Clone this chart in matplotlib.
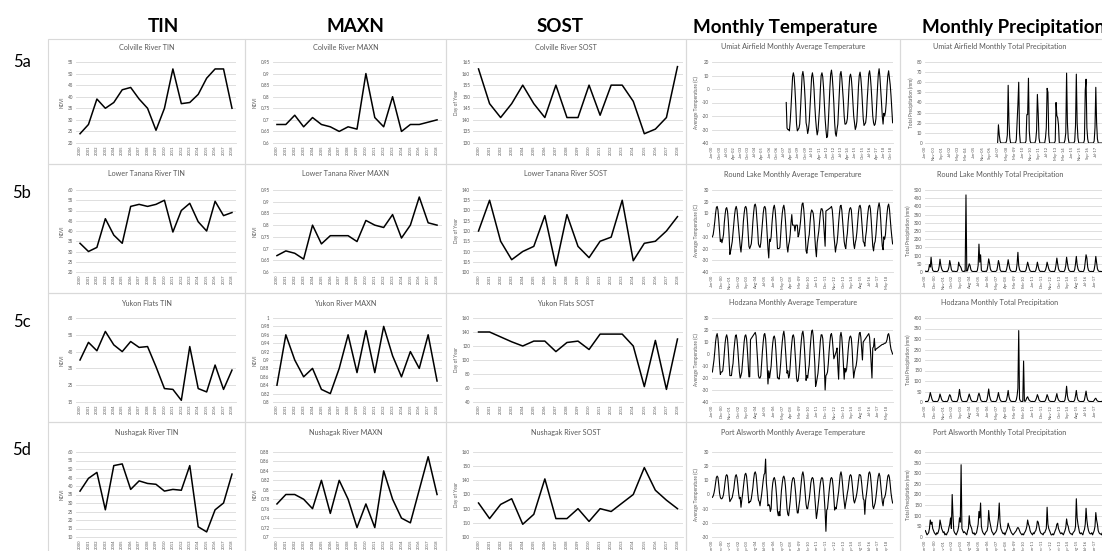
import numpy as np
import matplotlib
matplotlib.use('Agg')
import matplotlib.pyplot as plt
import matplotlib.patches as patches

plt.rcParams['font.family'] = ['Lato', 'DejaVu Sans']

nan = np.nan
W, H = 1102, 551

# ---------------- annual data (2000-2018) ----------------
years = [str(y) for y in range(2000, 2019)]

colville_tin = [24, 28, 39, 35, 37.5, 43, 44, 39, 35, 25.5, 35, 52, 37, 37.5, 41, 48, 52, 52, 35]
colville_maxn = [0.68, 0.68, 0.72, 0.67, 0.71, 0.68, 0.67, 0.65, 0.67, 0.66, 0.90, 0.71, 0.67, 0.80, 0.65, 0.68, 0.68, 0.69, 0.70]
colville_sost = [162, 147, 141, 147, 155, 147, 141, 155, 141, 141, 155, 142, 155, 155, 148, 134, 136, 141, 163]

tanana_tin = [34, 30, 32, 46, 38, 34, 52, 53, 52, 53, 55, 39.5, 50, 53.5, 44.5, 40, 54.5, 47.5, 49]
tanana_maxn = [0.67, 0.69, 0.68, 0.655, 0.80, 0.72, 0.755, 0.755, 0.755, 0.73, 0.82, 0.80, 0.79, 0.845, 0.745, 0.80, 0.92, 0.81, 0.80]
tanana_sost = [120, 135, 115, 106, 110, 112.5, 127.5, 103, 128, 112.5, 107, 115, 117, 135, 105.5, 114, 115, 120, 127]

yukon_tin = [40, 50.5, 45.5, 57, 49, 45, 51, 47.5, 48, 36, 23, 22.5, 16, 48, 23, 21, 37, 22.5, 34]
yukon_maxn = [0.84, 0.96, 0.90, 0.86, 0.88, 0.83, 0.82, 0.88, 0.96, 0.87, 0.97, 0.87, 0.98, 0.91, 0.86, 0.92, 0.88, 0.96, 0.85]
yukon_sost = [140, 140, 133, 126, 120, 127, 127, 112, 125, 127, 115, 137, 137, 137, 120, 62, 128, 58, 130]

nushagak_tin = [37, 44.5, 48, 26, 52, 53, 38, 43, 41.5, 41, 37, 38, 37.5, 52, 16, 13, 26, 30, 47]
nushagak_maxn = [0.77, 0.79, 0.79, 0.78, 0.76, 0.82, 0.75, 0.82, 0.78, 0.72, 0.77, 0.72, 0.84, 0.78, 0.74, 0.73, 0.80, 0.87, 0.79]
nushagak_sost = [124, 113, 123, 127, 109, 116, 141, 113, 113, 120, 111, 120, 118, 124, 130, 149, 133, 126, 120]

# ---------------- monthly data (Jan 2000 - Dec 2018), one row per year ----------------
umiat_temp = [
    [nan] * 12, [nan] * 12, [nan] * 12, [nan] * 12, [nan] * 12, [nan] * 12, [nan] * 12,
    [nan, nan, nan, nan, nan, nan, nan, nan, nan, -10, -29, -30],
    [-30, -31, -24, -14, -2, 9, 12, 9, 0, -12, -26, -31],
    [-30, -29, -26, -15, -2, 10, 13, 9, 1, -10, -25, -28],
    [-33, -30, -24, -13, -1, 9, 12, 8, 0, -12, -22, -29],
    [-34, -31, -22, -14, 0, 10, 12, 9, 1, -10, -22, -30],
    [-36, -35, -25, -12, 1, 11, 14, 9, 0, -11, -25, -33],
    [-35, -30, -26, -14, -2, 11, 13, 8, 0, -9, -20, -26],
    [-26, -25, -22, -12, 0, 9, 11, 8, 0, -10, -20, -25],
    [-30, -28, -24, -12, 2, 10, 12.5, 8, 0, -11, -22, -27],
    [-26, -25, -20, -8, 2, 11, 13.5, 9, 1, -9, -20, -25],
    [-27, -26, -22, -10, 1, 11, 15, 9, 0, -10, -20, -26],
    [-18, -20, -17, -10, 2, 10, 13.5, 8, 3, -5, -15, -25],
]
umiat_prcp = [
    [nan] * 12, [nan] * 12, [nan] * 12, [nan] * 12, [nan] * 12, [nan] * 12, [nan] * 12,
    [nan, nan, nan, nan, nan, 0, 18, 8, 2, 0, 0, 0],
    [0, 0, 0, 0, 2, 8, 57, 20, 5, 0, 0, 0],
    [0, 0, 0, 0, 3, 20, 38, 60, 10, 0, 0, 0],
    [0, 0, 0, 0, 2, 28, 28, 64, 12, 2, 0, 0],
    [0, 0, 0, 0, 3, 12, 48, 30, 5, 0, 0, 0],
    [0, 0, 0, 0, 5, 15, 54, 50, 8, 0, 0, 0],
    [0, 0, 0, 0, 2, 40, 27, 25, 18, 0, 0, 0],
    [0, 0, 0, 0, 3, 10, 69, 20, 5, 0, 0, 0],
    [0, 0, 0, 0, 2, 17, 68, 20, 5, 0, 0, 0],
    [0, 0, 0, 0, 3, 52, 63, 15, 4, 0, 0, 0],
    [0, 0, 0, 0, 2, 15, 55, 20, 4, 0, 0, 0],
    [0, 0, 0, 0, 3, 20, 50, 25, 6, 0, 0, 0],
]
roundlake_temp = [
    [-10, -8, -3, 3, 10, 15, 16, 13, 5, -5, -14, -12],
    [-15, -12, -8, 2, 9, 14, 15, 12, 4, -8, -25, -22],
    [-18, -14, -6, 1, 9, 14, 16, 13, 5, -3, -12, -18],
    [-23, -15, -8, 3, 10, 15, 16, 14, 5, -6, -18, -20],
    [-18, -16, -8, 3, 11, 17, 18, 15, 6, -4, -16, -18],
    [-19, -15, -7, 2, 10, 15, 16, 14, 4, -8, -20, -28],
    [-12, -14, -10, 1, 9, 15, 17, 13, 4, -8, -20, -20],
    [-20, -19, -8, 2, 10, 15, 17, 13, 4, -7, -18, -23],
    [-17, -14, -8, 2, 9, 0, 0, 0, -5, 0, 0, 0],
    [-10, -8, -3, 3, 12, 18, 19, 14, 5, -8, -22, -24],
    [-18, -12, -8, 2, 10, 13, 12, 10, 3, -10, -20, -27],
    [-15, -10, -5, 3, 10, 14, 14, 12, 3, -8, -18, 12],
    [12.5, 13, 13.5, 14, 14.5, 15, 16, 13, 4, -8, -16, -23],
    [-18, -15, -8, 2, 10, 16, 17, 13, 4, -6, -14, -18],
    [-20, -12, -7, 3, 10, 14, 15, 13, 4, -6, -16, -20],
    [-15, -12, -6, 3, 11, 16, 17, 14, 5, -5, -14, -15],
    [-18, -10, -5, 4, 11, 16, 17, 14, 5, -6, -18, -22],
    [-16, -14, -8, 2, 11, 16, 19, 15, 5, -8, -18, -21],
    [-10, -12, -8, 2, 10, 16, 18, 14, 5, -3, -10, -16],
]
roundlake_prcp = [
    [5, 3, 4, 2, 15, 45, 30, 90, 35, 10, 5, 3],
    [4, 3, 2, 5, 10, 35, 78, 40, 20, 8, 4, 3],
    [3, 2, 4, 3, 12, 30, 70, 45, 15, 6, 3, 5],
    [4, 3, 2, 4, 15, 60, 40, 35, 25, 8, 4, 3],
    [5, 4, 470, 5, 10, 30, 50, 40, 15, 6, 4, 3],
    [3, 4, 3, 2, 10, 40, 170, 60, 105, 10, 5, 3],
    [4, 3, 5, 3, 12, 40, 80, 55, 20, 8, 4, 3],
    [3, 4, 2, 5, 10, 35, 70, 50, 15, 6, 3, 4],
    [4, 3, 3, 2, 15, 40, 75, 45, 20, 8, 5, 3],
    [3, 4, 2, 3, 10, 50, 120, 40, 15, 6, 4, 3],
    [4, 3, 3, 4, 12, 35, 60, 40, 20, 8, 4, 3],
    [3, 4, 3, 2, 10, 30, 60, 35, 15, 6, 3, 4],
    [4, 3, 2, 4, 12, 30, 60, 40, 20, 8, 5, 3],
    [3, 4, 3, 2, 15, 45, 85, 50, 20, 8, 4, 3],
    [4, 3, 2, 4, 15, 40, 90, 55, 25, 10, 5, 3],
    [3, 4, 3, 3, 15, 50, 95, 45, 20, 8, 4, 3],
    [4, 3, 2, 5, 20, 60, 105, 85, 30, 10, 5, 3],
    [3, 4, 3, 2, 15, 45, 95, 55, 20, 8, 4, 3],
    [4, 3, 2, 4, 15, 50, 100, 60, 20, 8, 4, 3],
]
hodzana_temp = [
    [-15, -10, -5, 2, 10, 15, 17, 13, 4, -8, -17, -15],
    [-15, -14, -8, 1, 9, 14, 16, 13, 4, -8, -18, -18],
    [-18, -12, -8, 2, 9, 15, 16, 12, 4, -6, -15, -20],
    [-18, -15, -7, 2, 10, 15, 16, 13, 4, -8, -19, -19],
    [12, 13, 14, 15, 16, 17, 18, 15, 5, -6, -18, -20],
    [-20, -18, -8, 2, 10, 16, 17, 13, 3, -10, -25, -14],
    [-20, -15, -10, 1, 9, 14, 15, 12, 3, -8, -20, -20],
    [-21, -16, -8, 2, 10, 16, 19, 14, 4, -6, -16, -14],
    [-20, -18, -10, 1, 9, 15, 16, 13, 3, -8, -20, -23],
    [-22, -16, -8, 3, 11, 17, 19, 14, 4, -8, -22, -18],
    [-20, -14, -9, 3, 12, 19, 20, 15, 4, -8, -27, -24],
    [-20, -16, -8, 2, 11, 16, 16, 13, 3, -10, -30, -18],
    [-17, -15, -8, 2, 10, 16, 17, 13, 4, -4, -2, 0],
    [2, 5, -10, -21, 0, 15, 18, 14, 4, -8, -21, -12],
    [-15, -13, -6, 3, 10, 14, 15, 13, 4, -10, -20, -15],
    [-12, -10, -5, 4, 11, 17, 18, 14, 4, -5, 10, 11],
    [12, 13, 14, 15, 16, 17, 14, 4, -8, -20, 5, 6],
    [13, 3, 4, 4.5, 5, 5.5, 6, 6.5, 7, 7.5, 8, 8],
    [8.5, 9, 9, 10, 12, 16, 17, 14, 8, 4, 2, 0],
]
hodzana_prcp = [
    [2, 3, 2, 3, 10, 25, 45, 30, 15, 5, 3, 2],
    [3, 2, 2, 3, 8, 20, 38, 25, 12, 5, 3, 2],
    [2, 3, 2, 3, 10, 25, 35, 28, 12, 5, 3, 2],
    [3, 2, 2, 3, 12, 30, 60, 30, 15, 5, 3, 2],
    [2, 3, 2, 3, 10, 25, 38, 25, 12, 5, 3, 2],
    [3, 2, 2, 3, 10, 30, 42, 30, 12, 5, 3, 2],
    [2, 3, 2, 3, 12, 35, 62, 30, 15, 5, 3, 2],
    [3, 2, 2, 3, 10, 25, 45, 25, 12, 5, 3, 2],
    [2, 3, 2, 3, 10, 30, 55, 25, 12, 5, 3, 2],
    [3, 2, 2, 3, 10, 30, 65, 340, 15, 5, 3, 2],
    [2, 195, 5, 3, 10, 20, 25, 15, 8, 5, 3, 2],
    [3, 2, 2, 3, 10, 20, 35, 25, 10, 5, 3, 2],
    [2, 3, 2, 3, 8, 20, 35, 25, 10, 5, 3, 2],
    [3, 2, 2, 3, 8, 25, 40, 20, 10, 5, 3, 2],
    [2, 3, 2, 3, 10, 35, 75, 30, 12, 5, 3, 2],
    [3, 2, 2, 3, 10, 30, 55, 25, 10, 5, 3, 2],
    [2, 3, 2, 3, 10, 30, 52, 25, 10, 5, 3, 2],
    [3, 2, 2, 3, 8, 15, 18, 10, 5, 3, 2, 2],
    [2, 3, 2, 3, 8, 15, 20, 12, 6, 3, 2, 2],
]
alsworth_temp = [
    [-2, -1, 1, 4, 8, 12, 13, 12, 7, 1, -2, -3],
    [-3, -2, 0, 4, 9, 13, 14, 13, 7, 0, -5, -4],
    [-3, -2, 1, 4, 9, 13, 14, 12, 7, 1, -3, -2],
    [-9, -4, 0, 5, 10, 14, 15, 13, 7, 0, -6, -5],
    [-5, -3, 1, 5, 11, 15, 16, 14, 8, 1, -4, -5],
    [-8, -4, 0, 5, 10, 14, 15, 25, 8, 2, -8, -7],
    [-8, -12, -10, 2, 8, 11, 12, 10, 5, -2, -12, -15],
    [-12, -15, -5, 3, 8, 12, 13, 11, 6, -2, -10, -14],
    [-15, -10, -5, 2, 8, 11, 12, 11, 6, 0, -8, -13],
    [-13, -8, -4, 3, 9, 14, 16, 13, 7, 0, -7, -10],
    [-10, -6, -3, 2, 8, 11, 12, 11, 6, -2, -10, -17],
    [-13, -8, -3, 3, 8, 11, 12, 11, 6, -3, -12, -26],
    [-11, -10, -4, 2, 7, 11, 12, 11, 6, -3, -11, -9],
    [-10, -6, -2, 2, 8, 14, 16, 13, 7, 0, -5, -10],
    [-6, -3, 1, 4, 9, 13, 14, 13, 8, 2, -4, -6],
    [-4, -2, 1, 5, 10, 14, 14, 13, 8, 2, -3, -4],
    [-14, -4, 0, 5, 10, 15, 16, 14, 8, 1, -8, -10],
    [-8, -6, -2, 3, 9, 13, 15, 13, 7, 1, -5, -8],
    [-3, -2, 0, 4, 9, 13, 14, 12, 7, 1, -3, -6],
]
alsworth_prcp = [
    [30, 20, 10, 15, 20, 40, 80, 60, 70, 40, 30, 20],
    [15, 10, 20, 15, 25, 40, 80, 60, 40, 30, 20, 25],
    [10, 15, 10, 20, 25, 45, 60, 90, 40, 200, 100, 30],
    [20, 15, 10, 20, 30, 50, 90, 70, 340, 40, 30, 20],
    [25, 20, 15, 10, 30, 40, 100, 60, 50, 40, 20, 15],
    [20, 10, 15, 20, 40, 60, 120, 90, 160, 50, 30, 20],
    [15, 10, 20, 25, 30, 50, 125, 80, 60, 40, 25, 20],
    [10, 15, 20, 25, 35, 60, 90, 160, 70, 40, 30, 20],
    [15, 20, 10, 20, 30, 40, 65, 50, 40, 30, 20, 15],
    [10, 15, 20, 25, 30, 40, 45, 40, 30, 20, 15, 10],
    [15, 10, 20, 25, 35, 50, 80, 60, 50, 30, 20, 15],
    [10, 20, 15, 25, 30, 45, 75, 70, 50, 30, 20, 15],
    [15, 10, 20, 20, 30, 40, 140, 60, 40, 30, 20, 10],
    [10, 15, 10, 20, 30, 40, 60, 65, 40, 30, 20, 15],
    [20, 15, 10, 20, 30, 45, 85, 60, 50, 30, 20, 15],
    [15, 10, 20, 25, 30, 50, 180, 90, 60, 40, 20, 15],
    [20, 15, 10, 25, 35, 60, 135, 80, 50, 30, 20, 15],
    [15, 20, 10, 20, 30, 50, 115, 80, 60, 30, 20, 15],
    [15, 10, 20, 25, 30, 50, 100, 80, 60, 30, 20, 15],
]

month_abbr = ['Jan', 'Feb', 'Mar', 'Apr', 'May', 'Jun', 'Jul', 'Aug', 'Sep', 'Oct', 'Nov', 'Dec']
months = [f"{m}-{y % 100:02d}" for y in range(2000, 2019) for m in month_abbr]

headers = ['TIN', 'MAXN', 'SOST', 'Monthly Temperature', 'Monthly Precipitation']
row_labels = ['5a', '5b', '5c', '5d']

# panel rows: titles, series, y range (lo, hi, step), monthly label step (temp, prcp)
rows = [
    (['Colville River TIN', 'Colville River MAXN', 'Colville River SOST',
      'Umiat Airfield Monthly Average Temperature', 'Umiat Airfield Monthly Total Precipitation'],
     [colville_tin, colville_maxn, colville_sost, umiat_temp, umiat_prcp],
     [(20, 55, 5), (0.6, 0.95, 0.05), (130, 165, 5), (-40, 20, 10), (0, 80, 10)], (9, 10)),
    (['Lower Tanana River TIN', 'Lower Tanana River MAXN', 'Lower Tanana River SOST',
      'Round Lake Monthly Average Temperature', 'Round Lake Monthly Total Precipitation'],
     [tanana_tin, tanana_maxn, tanana_sost, roundlake_temp, roundlake_prcp],
     [(20, 60, 5), (0.6, 0.95, 0.05), (100, 140, 5), (-40, 30, 10), (0, 500, 50)], (11, 11)),
    (['Yukon Flats TIN', 'Yukon River MAXN', 'Yukon Flats SOST',
      'Hodzana Monthly Average Temperature', 'Hodzana Monthly Total Precipitation'],
     [yukon_tin, yukon_maxn, yukon_sost, hodzana_temp, hodzana_prcp],
     [(15, 65, 10), (0.8, 1.0, 0.02), (40, 160, 20), (-40, 30, 10), (0, 400, 50)], (11, 11)),
    (['Nushagak River TIN', 'Nushagak River MAXN', 'Nushagak River SOST',
      'Port Alsworth Monthly Average Temperature', 'Port Alsworth Monthly Total Precipitation'],
     [nushagak_tin, nushagak_maxn, nushagak_sost, alsworth_temp, alsworth_prcp],
     [(10, 60, 5), (0.7, 0.88, 0.02), (100, 160, 10), (-30, 30, 10), (0, 400, 50)], (11, 11)),
]
ylabels = ['NDVI', 'NDVI', 'Day of Year', 'Average Temperature (C)', 'Total Precipitation (mm)']

# ---------------- layout in pixels ----------------
frame_x = [48, 245, 446, 686, 900, 1115]
frame_y = [39, 164, 293, 422, 560]
plot_x = [(75.8, 236.2), (272.5, 441.5), (473, 683), (712, 893), (925, 1110)]
plot_top = [62, 190, 318, 452]
plot_bot = [143, 272, 402, 537]
title_y = [47, 174, 303, 432]
label_y = [62, 193, 322, 450]
header_x = [163, 355, 560, 785, 922]

grey = '#595959'
grid = '#d9d9d9'


def fbox(l, t, r, b):
    return [l / W, 1 - b / H, (r - l) / W, (b - t) / H]


def fmt(v):
    s = f"{v:.2f}".rstrip('0').rstrip('.')
    return '0' if s in ('-0', '') else s


fig = plt.figure(figsize=(W / 100, H / 100), dpi=100)

for j, h in enumerate(headers):
    fig.text(header_x[j] / W, 1 - 27 / H, h, ha='left' if j == 4 else 'center', va='center',
             fontsize=13.5, fontweight='bold', color='black')

for i, (titles, series, yr, mstep) in enumerate(rows):
    fig.text(22 / W, 1 - label_y[i] / H, row_labels[i], ha='center', va='center',
             fontsize=12, color='black')
    for j in range(5):
        l, r = frame_x[j], frame_x[j + 1]
        t, b = frame_y[i], frame_y[i + 1]
        fig.add_artist(patches.Rectangle((l / W, 1 - b / H), (r - l) / W, (b - t) / H,
                                         transform=fig.transFigure, fill=False,
                                         edgecolor=grid, linewidth=0.8))
        cx = min((l + r) / 2, 1000)
        fig.text(cx / W, 1 - title_y[i] / H, titles[j], ha='center', va='center',
                 fontsize=5.2, color=grey)

        x0, x1 = plot_x[j]
        ax = fig.add_axes(fbox(x0, plot_top[i], x1, plot_bot[i]))
        lo, hi, st = yr[j]
        yt = np.round(np.arange(lo, hi + st / 2, st), 3)
        if j < 3:
            ax.plot(range(len(years)), series[j], color='black', linewidth=1.1)
            ax.set_xlim(-0.5, len(years) - 0.5)
            ax.set_xticks(range(len(years)))
            ax.set_xticklabels(years)
        else:
            vals = np.array(series[j], dtype=float).ravel()
            ax.plot(range(len(months)), vals, color='black', linewidth=0.8)
            ax.set_xlim(-0.5, len(months) - 0.5)
            stp = mstep[j - 3]
            px = (x1 - x0) / len(months)
            idx = [k for k in range(0, len(months), stp) if x0 + (k + 0.5) * px < W - 3]
            ax.set_xticks(idx)
            ax.set_xticklabels([months[k] for k in idx])
        ax.set_ylim(lo, hi)
        ax.set_yticks(yt)
        ax.set_yticklabels([fmt(v) for v in yt])
        ax.grid(axis='y', color=grid, linewidth=0.6)
        ax.set_axisbelow(True)
        for s in ('top', 'left', 'right'):
            ax.spines[s].set_visible(False)
        ax.spines['bottom'].set_color(grid)
        ax.spines['bottom'].set_linewidth(0.6)
        ax.tick_params(axis='y', length=0, labelsize=3.3, labelcolor=grey, pad=2)
        ax.tick_params(axis='x', length=0, labelsize=3.0, labelcolor=grey, pad=2,
                       labelrotation=90)
        ax.patch.set_alpha(0)
        ax.set_ylabel(ylabels[j], fontsize=3.4, color=grey, labelpad=2)

fig.savefig('out.png', dpi=100)
